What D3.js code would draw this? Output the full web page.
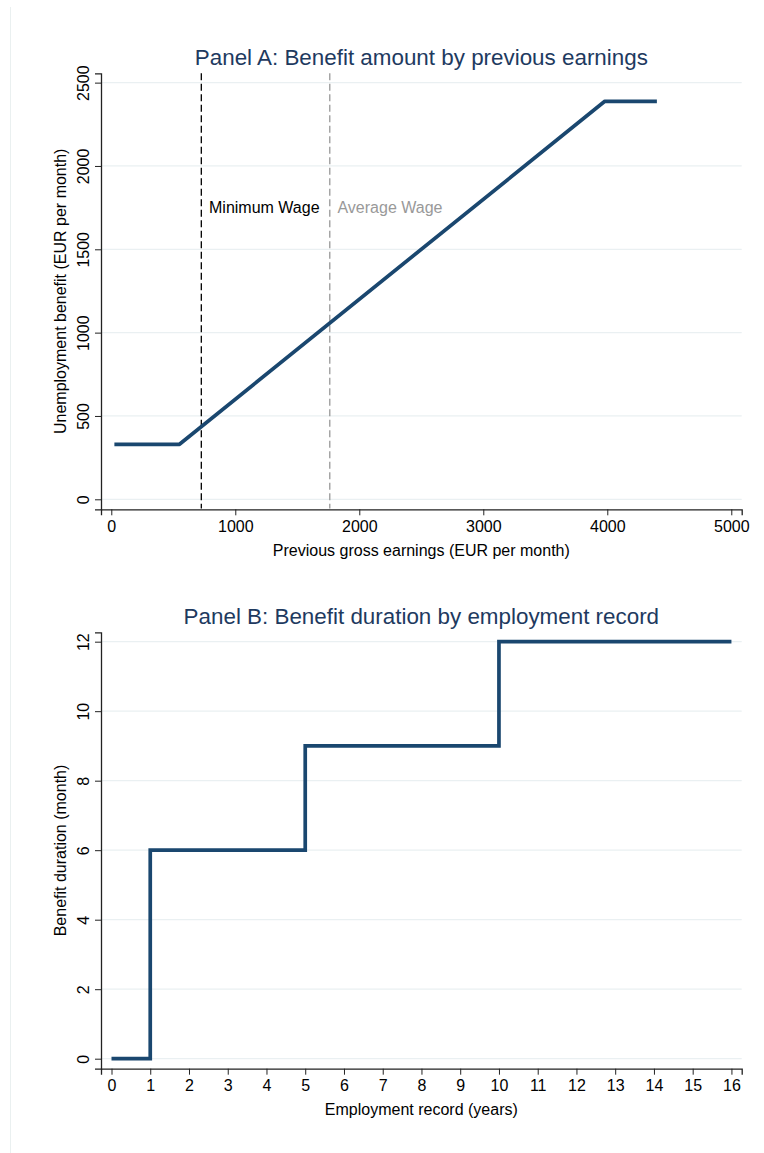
<!DOCTYPE html>
<html><head><meta charset="utf-8">
<script src="https://cdn.jsdelivr.net/npm/d3@7"></script>
<style>
body{margin:0;background:#fff;}
svg{display:block;font-family:"Liberation Sans",Arial,sans-serif;}
</style></head>
<body>
<svg id="chart" width="764" height="1153"></svg>
<script>
// Panel A data
const earnings = [25, 550, 3980, 4400];
const benefit = [330, 330, 2388, 2388];
const earningsTicks = [0, 1000, 2000, 3000, 4000, 5000];
const benefitTicks = [0, 500, 1000, 1500, 2000, 2500];
const refLines = [
  {label: "Minimum Wage", value: 726, color: "#000000"},
  {label: "Average Wage", value: 1762, color: "#999999"}
];
const refLabelY = 1750;
// Panel B data
const years = [0, 1, 1, 5, 5, 10, 10, 16];
const duration = [0, 0, 6, 6, 9, 9, 12, 12];
const yearTicks = d3.range(0, 17);
const durationTicks = [0, 2, 4, 6, 8, 10, 12];

const svg = d3.select("#chart");
const lineColor = "#1a476f";
const titleColor = "#1e3a5f";
const gridColor = "#eaf0f2";
const FONT = "Liberation Sans, Arial, sans-serif";

svg.append("line").attr("x1", 10.5).attr("x2", 10.5).attr("y1", 7).attr("y2", 1153)
  .attr("stroke", "#eaf0f0").attr("stroke-width", 1);

function panel(opts) {
  const x = d3.scaleLinear().domain(opts.xDomain).range([opts.left, opts.right]);
  const y = d3.scaleLinear().domain(opts.yDomain).range([opts.bottom, opts.top]);
  const g = svg.append("g");
  // gridlines
  g.append("g").selectAll("line").data(opts.yTicks).join("line")
    .attr("x1", opts.left).attr("x2", opts.right)
    .attr("y1", d => y(d)).attr("y2", d => y(d))
    .attr("stroke", gridColor).attr("stroke-width", 1.2);
  // x axis
  const xa = g.append("g").attr("transform", `translate(0,${opts.bottom})`)
    .call(d3.axisBottom(x).tickValues(opts.xTicks).tickSize(6).tickPadding(5).tickFormat(d3.format("d")));
  xa.attr("font-size", 16).attr("font-family", FONT);
  xa.select(".domain").attr("stroke", "#222").attr("stroke-width", 1.3);
  xa.selectAll(".tick line").attr("stroke", "#222").attr("stroke-width", 1);
  xa.selectAll("text").attr("fill", "#000");
  // y axis
  const ya = g.append("g").attr("transform", `translate(${opts.left},0)`)
    .call(d3.axisLeft(y).tickValues(opts.yTicks).tickSize(6).tickFormat(d3.format("d")));
  ya.attr("font-size", 16).attr("font-family", FONT);
  ya.select(".domain").attr("stroke", "#222").attr("stroke-width", 1.3);
  ya.selectAll(".tick line").attr("stroke", "#222").attr("stroke-width", 1);
  ya.selectAll("text").attr("fill", "#000")
    .attr("transform", "rotate(-90)")
    .attr("x", 0).attr("y", -12).attr("dy", 0)
    .attr("text-anchor", "middle");
  // titles
  const cx = (opts.left + opts.right) / 2;
  g.append("text").attr("x", cx).attr("y", opts.titleY).attr("text-anchor", "middle")
    .attr("font-size", 22.4).attr("fill", titleColor).text(opts.title);
  g.append("text").attr("x", cx).attr("y", opts.bottom + 46.5).attr("text-anchor", "middle")
    .attr("font-size", 16).attr("fill", "#000").text(opts.xTitle);
  const cy = (opts.top + opts.bottom) / 2;
  g.append("text").attr("transform", `translate(66,${cy}) rotate(-90)`).attr("text-anchor", "middle")
    .attr("font-size", 16).attr("fill", "#000").text(opts.yTitle);
  return {g, x, y};
}

// Panel A
const A = panel({
  left: 101, right: 741.7, top: 73.3, bottom: 509.3,
  xDomain: [-83, 5084], yDomain: [-60, 2556],
  xTicks: earningsTicks, yTicks: benefitTicks,
  title: "Panel A: Benefit amount by previous earnings",
  titleY: 65,
  xTitle: "Previous gross earnings (EUR per month)",
  yTitle: "Unemployment benefit (EUR per month)"
});
refLines.forEach(r => {
  A.g.append("line").attr("x1", A.x(r.value)).attr("x2", A.x(r.value))
    .attr("y1", 73.3).attr("y2", 508.5)
    .attr("stroke", r.color).attr("stroke-width", 1.3).attr("stroke-dasharray", "7,3.5");
  A.g.append("text").attr("x", A.x(r.value) + 7.7).attr("y", A.y(refLabelY)).attr("dy", "0.35em")
    .attr("font-size", 16).attr("fill", r.color).text(r.label);
});
A.g.append("path").datum(earnings.map((e, i) => [e, benefit[i]]))
  .attr("d", d3.line().x(d => A.x(d[0])).y(d => A.y(d[1])))
  .attr("fill", "none").attr("stroke", lineColor).attr("stroke-width", 3.7)
  .attr("stroke-linejoin", "round");

// Panel B
const B = panel({
  left: 101, right: 741.7, top: 632.3, bottom: 1068.7,
  xDomain: [-0.271, 16.265], yDomain: [-0.288, 12.27],
  xTicks: yearTicks, yTicks: durationTicks,
  title: "Panel B: Benefit duration by employment record",
  titleY: 624,
  xTitle: "Employment record (years)",
  yTitle: "Benefit duration (month)"
});
B.g.append("path").datum(years.map((e, i) => [e, duration[i]]))
  .attr("d", d3.line().x(d => B.x(d[0])).y(d => B.y(d[1])))
  .attr("fill", "none").attr("stroke", lineColor).attr("stroke-width", 3.7)
  .attr("stroke-linejoin", "miter");
</script>
</body></html>
